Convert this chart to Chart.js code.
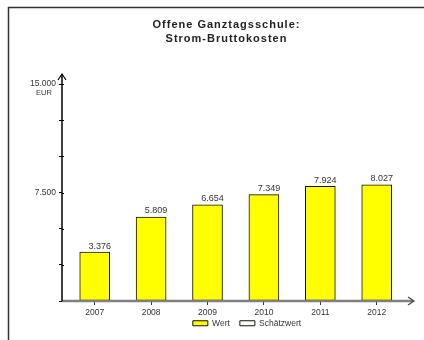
<!DOCTYPE html>
<html>
<head>
<meta charset="utf-8">
<script src="https://cdn.jsdelivr.net/npm/chart.js@4/dist/chart.umd.min.js"></script>
<style>
  html, body { margin: 0; padding: 0; background: #fff; overflow: hidden; }
  #wrap { width: 424px; height: 340px; }
</style>
</head>
<body>
<div id="wrap"><canvas id="kostenChart" width="424" height="340"></canvas></div>
<script>
// Strom-Bruttokosten je Jahr (EUR)
const years = ['2007', '2008', '2009', '2010', '2011', '2012'];
const values = [3376, 5809, 6654, 7349, 7924, 8027];
const yLabels = { 7500: '7.500', 15000: '15.000' };
const legendNames = ['Wert', 'Schätzwert'];
const titleLines = ['Offene Ganztagsschule:', 'Strom-Bruttokosten'];

const FONT = "'Liberation Sans', Arial, sans-serif";

function formatDe(v) {
  return v.toLocaleString('de-DE');
}

// frame, title, axis lines with arrows, value labels, EUR unit
const decorPlugin = {
  id: 'decor',
  afterLayout(chart) {
    // legend sits a bit right of the plot centre and close under the axis
    chart.legend.left += 11;
    chart.legend.right += 11;
    chart.legend.top -= 6;
    chart.legend.bottom -= 6;
  },
  beforeDraw(chart) {
    const ctx = chart.ctx;
    ctx.save();
    ctx.strokeStyle = '#333';
    ctx.lineWidth = 1.5;
    ctx.beginPath();
    ctx.moveTo(8.5, 340);
    ctx.lineTo(8.5, 7.5);
    ctx.lineTo(424, 7.5);
    ctx.stroke();

    ctx.font = 'bold 11px ' + FONT;
    ctx.letterSpacing = '1px';
    ctx.fillStyle = '#222';
    ctx.textAlign = 'center';
    ctx.textBaseline = 'middle';
    ctx.fillText(titleLines[0], 226.5, 25);
    ctx.fillText(titleLines[1], 226.5, 38.5);
    ctx.restore();
  },
  afterDatasetsDraw(chart) {
    const ctx = chart.ctx;
    const area = chart.chartArea;
    const y = chart.scales.y;
    ctx.save();

    // value labels
    ctx.font = '9px ' + FONT;
    ctx.fillStyle = '#333';
    ctx.textAlign = 'center';
    ctx.textBaseline = 'bottom';
    chart.getDatasetMeta(0).data.forEach((bar, i) => {
      ctx.fillText(formatDe(values[i]), bar.x + 5, bar.y - 1.5);
    });

    // x axis (grey) with arrow
    const yb = y.getPixelForValue(0);
    ctx.strokeStyle = '#808080';
    ctx.lineWidth = 2.5;
    ctx.beginPath();
    ctx.moveTo(area.left, yb);
    ctx.lineTo(area.right + 3, yb);
    ctx.stroke();
    ctx.strokeStyle = '#444';
    ctx.lineWidth = 1.2;
    ctx.beginPath();
    ctx.moveTo(area.right - 2, yb - 4);
    ctx.lineTo(area.right + 4, yb);
    ctx.lineTo(area.right - 2, yb + 4);
    ctx.stroke();

    // y axis (black) with arrow
    const xl = area.left;
    const top = y.getPixelForValue(15000) - 10;
    ctx.strokeStyle = '#000';
    ctx.lineWidth = 1.5;
    ctx.beginPath();
    ctx.moveTo(xl, yb);
    ctx.lineTo(xl, top);
    ctx.stroke();
    ctx.lineWidth = 1.2;
    ctx.beginPath();
    ctx.moveTo(xl - 4, top + 6);
    ctx.lineTo(xl, top);
    ctx.lineTo(xl + 4, top + 6);
    ctx.stroke();

    // ticks crossing the y axis slightly
    ctx.lineWidth = 1;
    y.ticks.forEach(t => {
      if (t.value === 0) return;
      const py = Math.round(y.getPixelForValue(t.value)) + 0.5;
      ctx.beginPath();
      ctx.moveTo(xl, py);
      ctx.lineTo(xl + 2, py);
      ctx.stroke();
    });

    // unit
    ctx.font = '7.5px ' + FONT;
    ctx.fillStyle = '#333';
    ctx.textAlign = 'center';
    ctx.textBaseline = 'middle';
    ctx.fillText('EUR', 44, y.getPixelForValue(15000) + 9);
    ctx.restore();
  }
};

const ctx = document.getElementById('kostenChart').getContext('2d');
new Chart(ctx, {
  type: 'bar',
  data: {
    datasets: [{
      label: legendNames[0],
      data: years.map((yr, i) => ({ x: i, y: values[i] })),
      stack: 'kosten',
      backgroundColor: '#ffff00',
      borderColor: '#111',
      borderWidth: 1,
      borderSkipped: false,
      barThickness: 30
    }, {
      label: legendNames[1],
      data: [],
      stack: 'kosten',
      backgroundColor: '#fffff4',
      borderColor: '#111',
      borderWidth: 1
    }]
  },
  options: {
    responsive: false,
    animation: false,
    layout: { padding: { left: 0, right: 14, top: 84, bottom: -3.5 } },
    plugins: {
      title: { display: false },
      legend: {
        position: 'bottom',
        fullSize: false,
        labels: {
          boxWidth: 15,
          boxHeight: 5,
          padding: 10,
          color: '#333',
          font: { family: FONT, size: 8.5 }
        }
      },
      tooltip: { enabled: false }
    },
    scales: {
      x: {
        type: 'linear',
        offset: false,
        min: -0.58,
        max: 5.59,
        afterBuildTicks: scale => {
          scale.ticks = years.map((yr, i) => ({ value: i }));
        },
        afterFit: scale => { scale.height = 14; },
        border: { display: false },
        grid: { offset: false, drawOnChartArea: false, tickLength: 4, color: '#333' },
        ticks: {
          padding: 2.5,
          color: '#333',
          font: { family: FONT, size: 8.5 },
          maxRotation: 0,
          callback: (v) => years[v]
        }
      },
      y: {
        min: 0,
        max: 15000,
        afterFit: scale => { scale.width = 62; },
        border: { display: false },
        grid: { drawOnChartArea: false, tickLength: 3, color: '#000' },
        ticks: {
          stepSize: 2500,
          padding: 3,
          color: '#333',
          font: { family: FONT, size: 8.5 },
          callback: (v) => yLabels[v] || ''
        }
      }
    }
  },
  plugins: [decorPlugin]
});
</script>
</body>
</html>
